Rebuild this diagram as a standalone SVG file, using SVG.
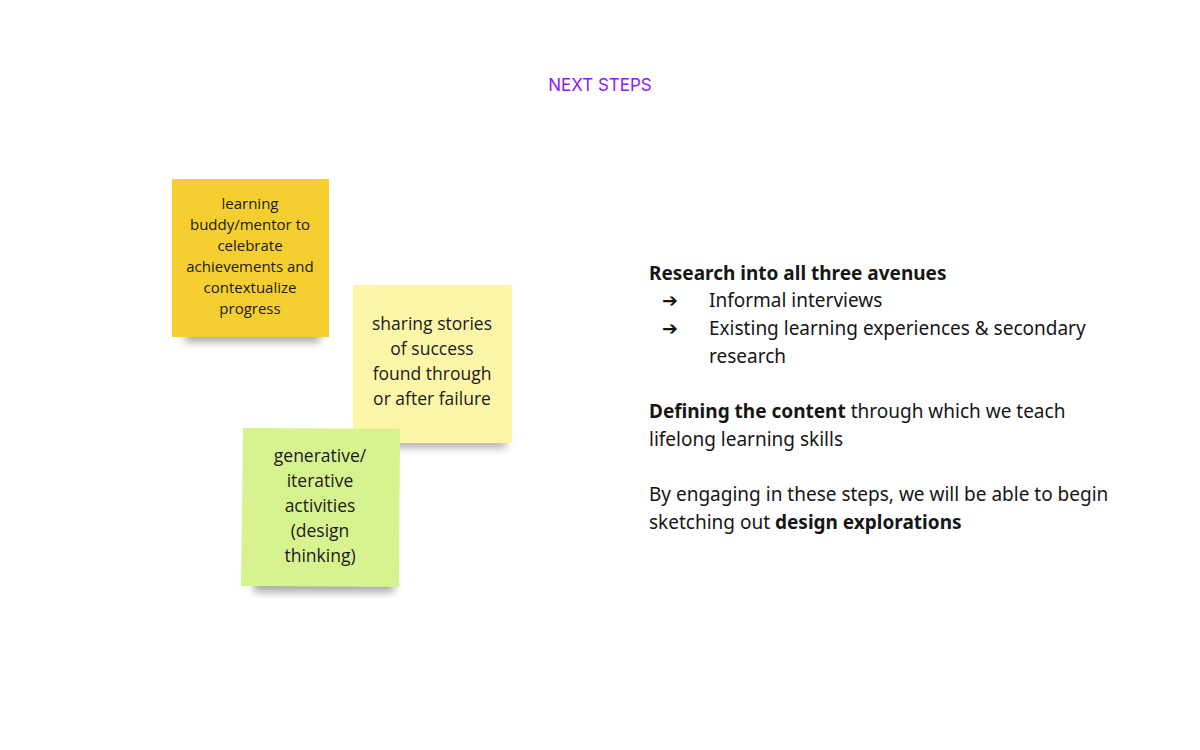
<svg xmlns="http://www.w3.org/2000/svg" width="1200" height="750" viewBox="0 0 1200 750">
<defs>
<filter id="sh" x="-20%" y="-20%" width="140%" height="160%"><feGaussianBlur stdDeviation="4"/></filter>
<style>
.n{font-family:"Open Sans","Noto Sans",sans-serif;fill:#1a1a1a;text-anchor:middle}
.t{font-family:"Noto Sans","Inter",sans-serif;font-size:19px;fill:#161616}
.b{font-weight:bold}
</style>
</defs>
<rect width="1200" height="750" fill="#fff"/>
<text x="600" y="91" text-anchor="middle" font-family="Inter,'Noto Sans',sans-serif" font-size="17" fill="#8a1cf5">NEXT STEPS</text>
<g id="note1">
<rect x="185" y="326" width="135" height="16" fill="#000" opacity="0.35" filter="url(#sh)"/>
<rect x="172" y="179" width="157" height="158" fill="#f5cf2f"/>
<text class="n" font-size="15"><tspan x="250" y="209">learning</tspan><tspan x="250" y="230">buddy/mentor to</tspan><tspan x="250" y="251">celebrate</tspan><tspan x="250" y="272">achievements and</tspan><tspan x="250" y="293">contextualize</tspan><tspan x="250" y="314">progress</tspan></text>
</g>
<g id="note2">
<rect x="366" y="432" width="140" height="16" fill="#000" opacity="0.3" filter="url(#sh)"/>
<rect x="353" y="285" width="159" height="158" fill="#fdf6a9"/>
<text class="n" font-size="17.5"><tspan x="432" y="330">sharing stories</tspan><tspan x="432" y="355">of success</tspan><tspan x="432" y="380">found through</tspan><tspan x="432" y="405">or after failure</tspan></text>
</g>
<g id="note3">
<rect x="254" y="576" width="140" height="16" fill="#000" opacity="0.35" filter="url(#sh)"/>
<polygon points="243,428 400,429 399,587 241,586" fill="#d7f38f"/>
<text class="n" font-size="17.5"><tspan x="320" y="462">generative/</tspan><tspan x="320" y="487">iterative</tspan><tspan x="320" y="512">activities</tspan><tspan x="320" y="537">(design</tspan><tspan x="320" y="562">thinking)</tspan></text>
</g>
<g id="connectors"/>
<g id="text">
<text class="t b" x="649" y="280">Research into all three avenues</text>
<text class="t" x="662" y="307">➔</text><text class="t" x="709" y="307">Informal interviews</text>
<text class="t" x="662" y="335">➔</text><text class="t" x="709" y="335">Existing learning experiences &amp; secondary</text>
<text class="t" x="709" y="363">research</text>
<text class="t" x="649" y="418"><tspan class="b">Defining the content</tspan> through which we teach</text>
<text class="t" x="649" y="446">lifelong learning skills</text>
<text class="t" x="649" y="501">By engaging in these steps, we will be able to begin</text>
<text class="t" x="649" y="529">sketching out <tspan class="b">design explorations</tspan></text>
</g>
</svg>
